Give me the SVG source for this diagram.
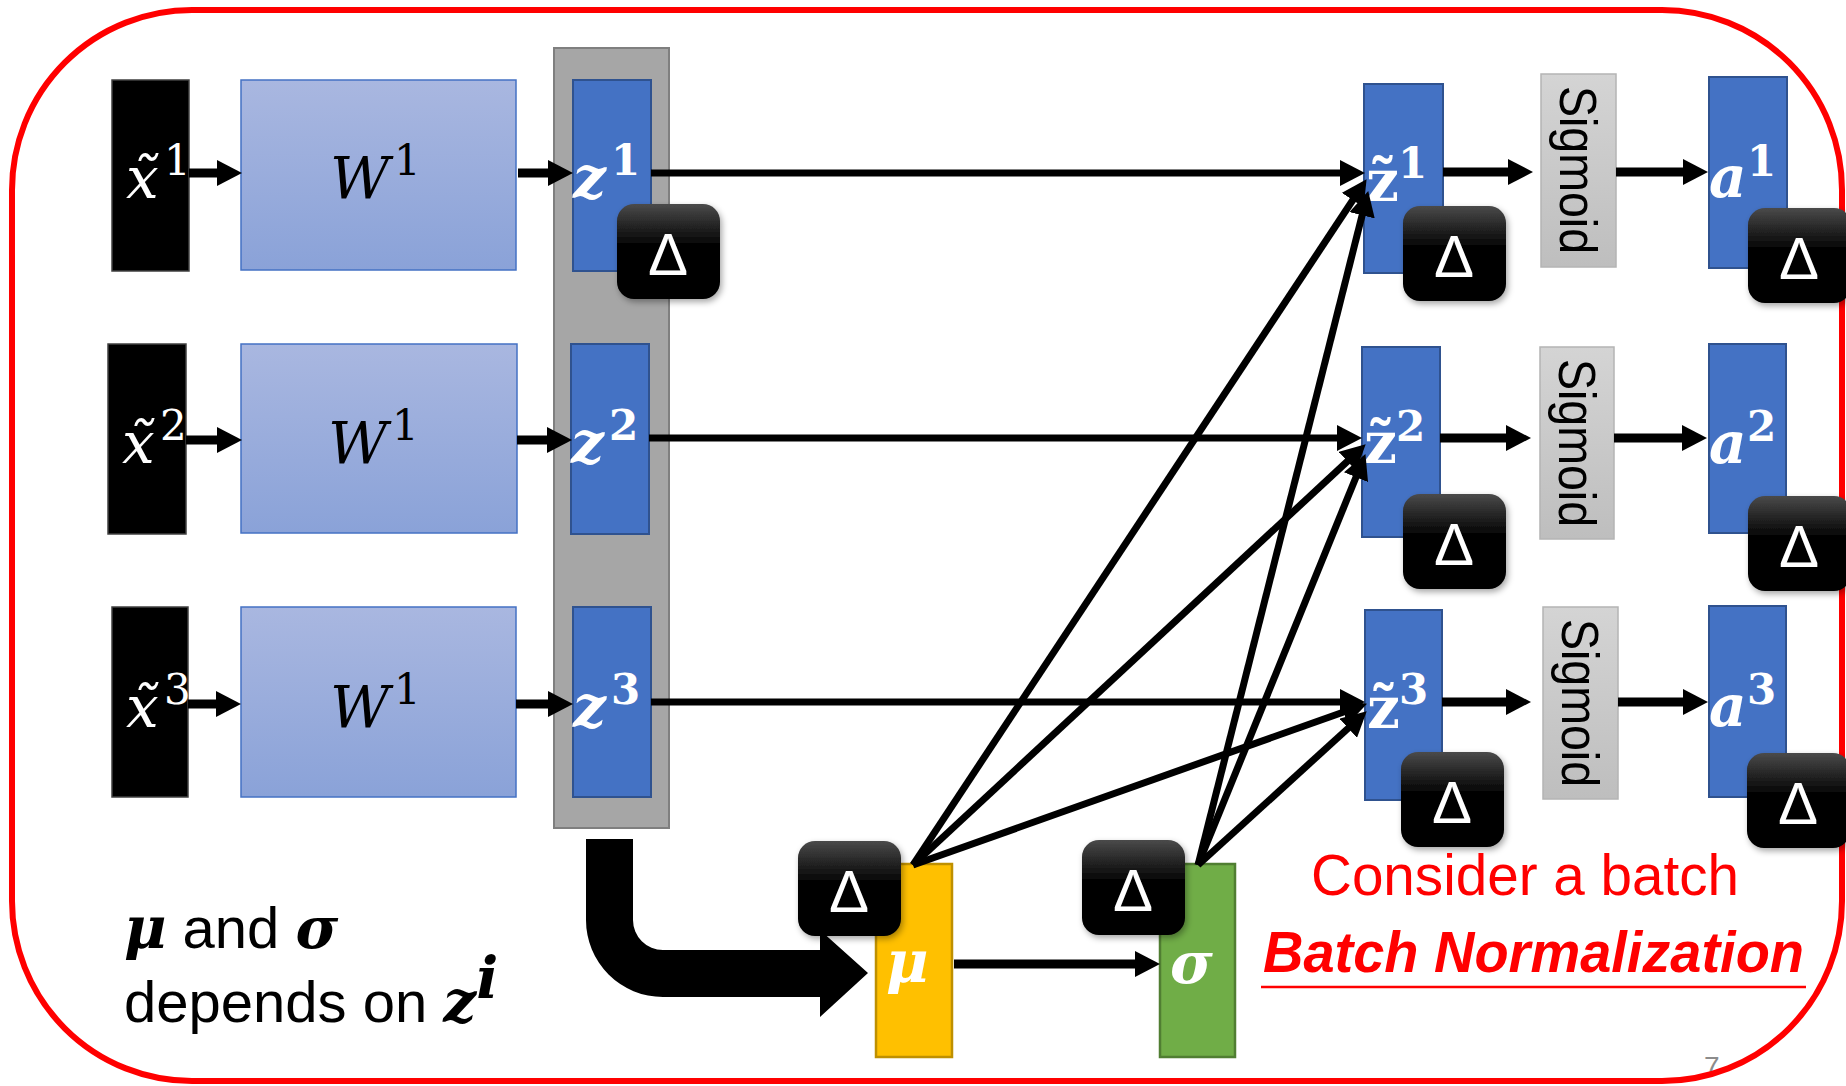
<svg xmlns="http://www.w3.org/2000/svg" width="1846" height="1086" viewBox="0 0 1846 1086">
<defs>
<style>
.xb{fill:#000;stroke:#404040;stroke-width:1.5}
.wb{fill:url(#gW);stroke:#4472C4;stroke-width:1.5}
.zb{fill:#4472C4;stroke:#2F528F;stroke-width:2}
.sg{fill:url(#gSig);stroke:#B4B4B4;stroke-width:1.5}
.dl{fill:url(#gD);filter:url(#sh)}
.dt{font-family:"Liberation Sans",Arial,sans-serif;font-size:60px;fill:#fff;text-anchor:middle}
.m{font-family:"DejaVu Serif","Liberation Serif",serif;font-size:58px}
.it{font-style:italic}
.bd{font-weight:bold}
.wt{fill:#fff}
.sup{font-size:42px;font-style:normal}
.sig{font-family:"Liberation Sans",Arial,sans-serif;font-size:52px;fill:#000;text-anchor:middle}
.s{font-family:"Liberation Sans",Arial,sans-serif;font-size:58px}
.ln{stroke:#000;fill:none;marker-end:url(#ah)}
.t9{stroke-width:9}
.t7{stroke-width:7}
</style>
<linearGradient id="gW" x1="0" y1="0" x2="0" y2="1"><stop offset="0" stop-color="#A9B7E0"/><stop offset="1" stop-color="#8AA2D8"/></linearGradient>
<linearGradient id="gSig" x1="0" y1="0" x2="0" y2="1"><stop offset="0" stop-color="#D4D4D4"/><stop offset="1" stop-color="#BEBEBE"/></linearGradient>
<linearGradient id="gD" x1="0" y1="0" x2="0" y2="1"><stop offset="0" stop-color="#4A4A4A"/><stop offset="0.45" stop-color="#000"/><stop offset="1" stop-color="#000"/></linearGradient>
<filter id="sh" x="-20%" y="-20%" width="150%" height="150%"><feDropShadow dx="2" dy="3" stdDeviation="3" flood-color="#000" flood-opacity="0.35"/></filter>
<marker id="ah" markerUnits="userSpaceOnUse" markerWidth="27" markerHeight="26" refX="4" refY="13" orient="auto"><path d="M0,0 L25,13 L0,26 Z" fill="#000"/></marker>
</defs>
<rect width="1846" height="1086" fill="#fff"/>
<text x="1704" y="1076" font-family="Liberation Sans,Arial,sans-serif" font-size="28" fill="#8C8C8C">7</text>
<rect id="frame" x="12" y="10" width="1830" height="1071" rx="180" ry="180" fill="none" stroke="#FF0000" stroke-width="6"/>

<g id="nodes">
<g id="gray-batch"><rect x="554" y="48" width="115" height="780" fill="#A6A6A6" stroke="#7F7F7F" stroke-width="2"/></g>

<g id="x1"><rect class="xb" x="112" y="80" width="77" height="191"/><text class="m it wt" x="126" y="198" font-size="62">x̃<tspan class="sup" x="164" y="175">1</tspan></text></g>
<g id="x2"><rect class="xb" x="108" y="344" width="78" height="190"/><text class="m it wt" x="122" y="463" font-size="62">x̃<tspan class="sup" x="160" y="440">2</tspan></text></g>
<g id="x3"><rect class="xb" x="112" y="607" width="76" height="190"/><text class="m it wt" x="126" y="727" font-size="62">x̃<tspan class="sup" x="164" y="704">3</tspan></text></g>

<g id="W1a"><rect class="wb" x="241" y="80" width="275" height="190"/><text class="m it" x="330" y="198">W<tspan class="sup" x="394" y="175">1</tspan></text></g>
<g id="W1b"><rect class="wb" x="241" y="344" width="276" height="189"/><text class="m it" x="328" y="463">W<tspan class="sup" x="392" y="440">1</tspan></text></g>
<g id="W1c"><rect class="wb" x="241" y="607" width="275" height="190"/><text class="m it" x="330" y="727">W<tspan class="sup" x="394" y="704">1</tspan></text></g>

<g id="z1"><rect class="zb" x="573" y="80" width="78" height="191"/><text class="m it bd wt" x="573" y="198">z<tspan class="sup" x="611" y="175">1</tspan></text></g>
<g id="z2"><rect class="zb" x="571" y="344" width="78" height="190"/><text class="m it bd wt" x="571" y="463">z<tspan class="sup" x="609" y="440">2</tspan></text></g>
<g id="z3"><rect class="zb" x="573" y="607" width="78" height="190"/><text class="m it bd wt" x="573" y="727">z<tspan class="sup" x="611" y="704">3</tspan></text></g>

<g id="zt1"><rect class="zb" x="1364" y="84" width="79" height="189"/><text class="m bd wt" x="1366" y="201">z̃<tspan class="sup" x="1398" y="178">1</tspan></text></g>
<g id="zt2"><rect class="zb" x="1362" y="347" width="78" height="190"/><text class="m bd wt" x="1364" y="463">z̃<tspan class="sup" x="1396" y="441">2</tspan></text></g>
<g id="zt3"><rect class="zb" x="1365" y="610" width="77" height="190"/><text class="m bd wt" x="1367" y="728">z̃<tspan class="sup" x="1399" y="704">3</tspan></text></g>

<g id="sig1"><rect class="sg" x="1541" y="74" width="75" height="193"/><text class="sig" transform="translate(1560,170) rotate(90)" textLength="168" lengthAdjust="spacingAndGlyphs">Sigmoid</text></g>
<g id="sig2"><rect class="sg" x="1540" y="347" width="74" height="192"/><text class="sig" transform="translate(1559,443) rotate(90)" textLength="168" lengthAdjust="spacingAndGlyphs">Sigmoid</text></g>
<g id="sig3"><rect class="sg" x="1543" y="607" width="75" height="192"/><text class="sig" transform="translate(1562,703) rotate(90)" textLength="168" lengthAdjust="spacingAndGlyphs">Sigmoid</text></g>

<g id="a1"><rect class="zb" x="1709" y="77" width="78" height="191"/><text class="m it bd wt" x="1709" y="197">a<tspan class="sup" x="1747" y="176">1</tspan></text></g>
<g id="a2"><rect class="zb" x="1709" y="344" width="77" height="189"/><text class="m it bd wt" x="1709" y="463">a<tspan class="sup" x="1747" y="441">2</tspan></text></g>
<g id="a3"><rect class="zb" x="1709" y="606" width="77" height="191"/><text class="m it bd wt" x="1709" y="726">a<tspan class="sup" x="1747" y="704">3</tspan></text></g>

<g id="mu"><rect x="876" y="864" width="76" height="193" fill="#FFC000" stroke="#BF9000" stroke-width="2.5"/><text class="m it bd wt" x="886" y="982">μ</text></g>
<g id="sigma"><rect x="1160" y="864" width="75" height="193" fill="#70AD47" stroke="#507E32" stroke-width="2.5"/><text class="m it bd wt" x="1170" y="983">σ</text></g>
</g>

<g id="connectors">
<line class="ln t9" x1="189" y1="173" x2="221" y2="173"/>
<line class="ln t9" x1="518" y1="173" x2="552" y2="173"/>
<line class="ln t7" x1="651" y1="173" x2="1344" y2="173"/>
<line class="ln t9" x1="1443" y1="172" x2="1512" y2="172"/>
<line class="ln t9" x1="1616" y1="172" x2="1687" y2="172"/>

<line class="ln t9" x1="186" y1="440" x2="221" y2="440"/>
<line class="ln t9" x1="517" y1="440" x2="551" y2="440"/>
<line class="ln t7" x1="649" y1="438" x2="1341" y2="438"/>
<line class="ln t9" x1="1440" y1="438" x2="1510" y2="438"/>
<line class="ln t9" x1="1614" y1="438" x2="1686" y2="438"/>

<line class="ln t9" x1="188" y1="704" x2="220" y2="704"/>
<line class="ln t9" x1="516" y1="704" x2="552" y2="704"/>
<line class="ln t7" x1="651" y1="702" x2="1344" y2="702"/>
<line class="ln t9" x1="1442" y1="702" x2="1510" y2="702"/>
<line class="ln t9" x1="1618" y1="702" x2="1687" y2="702"/>

<line class="ln t7" x1="913" y1="865" x2="1355" y2="196.7"/>
<line class="ln t7" x1="913" y1="865" x2="1350.3" y2="458.6"/>
<line class="ln t7" x1="913" y1="865" x2="1347.2" y2="710.7"/>
<line class="ln t7" x1="1198" y1="865" x2="1363.1" y2="211.4"/>
<line class="ln t7" x1="1198" y1="865" x2="1357.5" y2="473.5"/>
<line class="ln t7" x1="1198" y1="865" x2="1351.2" y2="725.5"/>

<line class="ln t9" x1="954" y1="964" x2="1139" y2="964"/>
<path id="batch-arrow" d="M586 839 L633 839 L633 920 A30 30 0 0 0 663 950 L820 950 L820 930 L868 973 L820 1017 L820 997 L663 997 A77 77 0 0 1 586 920 Z" fill="#000"/>
</g>

<g id="delta-z1"><rect class="dl" x="617" y="204" width="103" height="95" rx="17"/><text class="dt" x="668" y="275">Δ</text></g>
<g id="delta-zt1"><rect class="dl" x="1403" y="206" width="103" height="95" rx="17"/><text class="dt" x="1454" y="277">Δ</text></g>
<g id="delta-a1"><rect class="dl" x="1748" y="208" width="103" height="95" rx="17"/><text class="dt" x="1799" y="279">Δ</text></g>
<g id="delta-zt2"><rect class="dl" x="1403" y="494" width="103" height="95" rx="17"/><text class="dt" x="1454" y="565">Δ</text></g>
<g id="delta-a2"><rect class="dl" x="1748" y="496" width="103" height="95" rx="17"/><text class="dt" x="1799" y="567">Δ</text></g>
<g id="delta-zt3"><rect class="dl" x="1401" y="752" width="103" height="95" rx="17"/><text class="dt" x="1452" y="823">Δ</text></g>
<g id="delta-a3"><rect class="dl" x="1747" y="753" width="103" height="95" rx="17"/><text class="dt" x="1798" y="824">Δ</text></g>
<g id="delta-mu"><rect class="dl" x="798" y="841" width="103" height="95" rx="17"/><text class="dt" x="849" y="912">Δ</text></g>
<g id="delta-sigma"><rect class="dl" x="1082" y="840" width="103" height="95" rx="17"/><text class="dt" x="1133" y="911">Δ</text></g>

<g id="notes">
<text x="124" y="948"><tspan class="m it bd" font-size="60">μ</tspan><tspan class="s"> and </tspan><tspan class="m it bd" font-size="60">σ</tspan></text>
<text x="124" y="1022"><tspan class="s">depends on </tspan><tspan class="m it bd" font-size="60">z</tspan><tspan class="m it bd" font-size="40" dy="-24">i</tspan></text>
<text class="s" x="1311" y="895" fill="#FF0000" textLength="428" lengthAdjust="spacingAndGlyphs">Consider a batch</text>
<text class="s" x="1263" y="972" fill="#FF0000" font-weight="bold" font-style="italic" textLength="541" lengthAdjust="spacingAndGlyphs">Batch Normalization</text>
<line x1="1261" y1="987" x2="1806" y2="987" stroke="#FF0000" stroke-width="2.5"/>
</g>
</svg>
